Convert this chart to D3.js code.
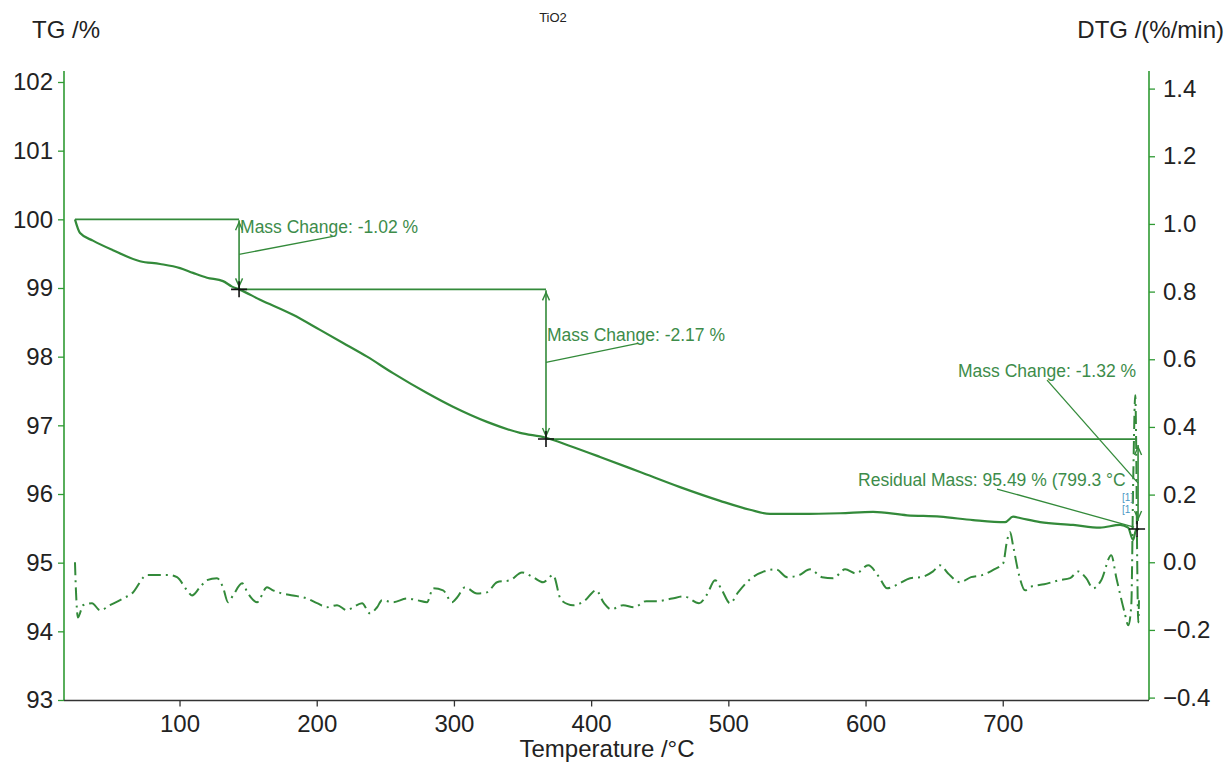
<!DOCTYPE html>
<html>
<head>
<meta charset="utf-8">
<script src="https://cdn.jsdelivr.net/npm/d3@7"></script>
<style>
  html, body { margin: 0; padding: 0; background: #fff; }
  svg { display: block; }
  text { font-family: "Liberation Sans", Arial, sans-serif; }
</style>
</head>
<body>
<svg id="chart" width="1231" height="765"></svg>
<script>
// ---------------- DATA ----------------
const title = "TiO2";
const xLabel = "Temperature /°C";
const yLeftLabel = "TG /%";
const yRightLabel = "DTG /(%/min)";

const xTicks = [100, 200, 300, 400, 500, 600, 700];
const tgTicks = [93, 94, 95, 96, 97, 98, 99, 100, 101, 102];
const dtgTicks = [-0.4, -0.2, 0.0, 0.2, 0.4, 0.6, 0.8, 1.0, 1.2, 1.4];

// TG curve (temperature °C, mass %)
const tgTemp = [23.8, 27.5, 36.9, 51.5, 71.2, 85.8, 100.4, 109.8, 120.0, 131.7, 138.3, 143.4,
  158.7, 182.7, 202.4, 219.2, 236.7, 255.6, 280.4, 299.3, 324.1, 348.2, 367.1,
  384.6, 406.5, 435.7, 464.8, 494.0, 515.8, 530.4, 552.3, 581.4, 605.5, 630.3, 654.3,
  678.4, 701.7, 707.5, 712.6, 727.2, 751.3, 770.9, 785.5, 791.4, 795.0, 797.2, 799.3];
const tgMass = [100.00, 99.80, 99.69, 99.55, 99.39, 99.35, 99.29, 99.22, 99.15, 99.10, 99.02, 98.98,
  98.83, 98.61, 98.39, 98.20, 98.00, 97.76, 97.47, 97.27, 97.05, 96.89, 96.82,
  96.70, 96.54, 96.32, 96.10, 95.90, 95.77, 95.71, 95.71, 95.72, 95.74, 95.69, 95.67,
  95.62, 95.59, 95.67, 95.65, 95.59, 95.55, 95.51, 95.55, 95.51, 95.33, 95.48, 95.49];

// DTG curve (temperature °C, %/min)
const dtgTemp = [23.8, 24.5, 26.0, 29.7, 36.2, 42.1, 49.3, 58.8, 65.4, 76.3, 83.6, 93.1, 98.2,
  105.5, 109.1, 114.9, 120.0, 127.3, 131.7, 135.3, 139.0, 145.6, 149.9, 156.5, 163.8, 168.1,
  174.7, 182.7, 192.9, 200.2, 207.5, 214.8, 222.1, 226.5, 233.0, 238.8, 244.0, 247.6, 255.6,
  265.8, 273.1, 280.4, 284.8, 292.1, 298.6, 302.3, 308.1, 316.8, 324.1, 331.4, 340.9, 349.6,
  357.7, 365.0, 372.3, 378.1, 386.8, 394.9, 403.6, 409.4, 414.5, 423.3, 431.3, 440.1, 448.1,
  459.0, 467.7, 478.6, 484.5, 490.3, 495.4, 501.2, 507.1, 515.1, 526.0, 534.8, 542.8, 551.6,
  559.6, 568.3, 576.4, 585.1, 593.1, 601.9, 609.9, 615.7, 623.7, 632.5, 640.5, 649.2, 654.3,
  660.2, 668.9, 676.9, 684.9, 693.7, 700.3, 703.2, 705.4, 707.5, 711.9, 716.3, 721.4, 730.2,
  741.1, 749.1, 755.0, 760.8, 765.9, 771.8, 779.1, 782.7, 788.6, 791.5, 793.7, 795.1, 796.6,
  797.3, 798.0, 798.8, 799.3];
const dtgVal = [0.000, -0.083, -0.163, -0.127, -0.121, -0.142, -0.127, -0.107, -0.092, -0.038, -0.038, -0.038, -0.044,
  -0.083, -0.098, -0.074, -0.053, -0.047, -0.074, -0.118, -0.098, -0.062, -0.092, -0.118, -0.074, -0.083,
  -0.092, -0.098, -0.107, -0.121, -0.133, -0.127, -0.142, -0.133, -0.121, -0.151, -0.133, -0.112, -0.118,
  -0.107, -0.112, -0.118, -0.077, -0.083, -0.118, -0.104, -0.074, -0.092, -0.089, -0.059, -0.053, -0.030,
  -0.044, -0.059, -0.038, -0.112, -0.127, -0.115, -0.083, -0.121, -0.139, -0.127, -0.133, -0.115, -0.115,
  -0.107, -0.101, -0.121, -0.095, -0.053, -0.083, -0.121, -0.089, -0.053, -0.027, -0.021, -0.044, -0.038,
  -0.021, -0.044, -0.047, -0.021, -0.033, -0.009, -0.044, -0.077, -0.065, -0.047, -0.044, -0.027, -0.009,
  -0.033, -0.059, -0.044, -0.038, -0.021, -0.003, 0.065, 0.089, 0.050, -0.038, -0.083, -0.071, -0.065,
  -0.053, -0.047, -0.027, -0.047, -0.077, -0.053, 0.021, -0.044, -0.145, -0.186, -0.127, 0.243, 0.494,
  0.331, 0.006, -0.178, -0.112];

// Step analysis (mass change evaluation)
const stepStartT = [23.8, 143.4, 367.1];
const stepEndT = [143.4, 367.1, 797.9];
const stepLevels = [100.00, 98.98, 96.80, 95.49];
const stepLabels = ["Mass Change: -1.02 %", "Mass Change: -2.17 %", "Mass Change: -1.32 %"];
const residualLabel = "Residual Mass: 95.49 % (799.3 °C";
const residualT = 797.9;
const residualMass = 95.49;

// ---------------- DRAW ----------------
const svg = d3.select("#chart");
const green = "#338a3a";
const textGreen = "#3d8c4a";
const axisGreen = "#2f9a33";
const ink = "#222";

const x = d3.scaleLinear().domain([15.8, 806.6]).range([64, 1149]);
const yTG = d3.scaleLinear().domain([93, 102]).range([700, 82]);
const yDTG = d3.scaleLinear().domain([-0.4, 1.4]).range([697.6, 88.6]);

// axis lines
svg.append("line").attr("x1", 64).attr("x2", 64).attr("y1", 71).attr("y2", 700)
  .attr("stroke", axisGreen).attr("stroke-width", 1.6);
svg.append("line").attr("x1", 1149).attr("x2", 1149).attr("y1", 71).attr("y2", 700)
  .attr("stroke", axisGreen).attr("stroke-width", 1.6);
svg.append("line").attr("x1", 64).attr("x2", 1149).attr("y1", 700.5).attr("y2", 700.5)
  .attr("stroke", "#333").attr("stroke-width", 1.6);

// left axis
const leftMinor = d3.range(93, 102.001, 0.2);
const gL = svg.append("g").attr("transform", "translate(64,0)");
gL.call(d3.axisLeft(yTG).tickValues(leftMinor).tickSize(3).tickFormat(""));
gL.call(d3.axisLeft(yTG).tickValues(tgTicks).tickSize(6).tickPadding(5).tickFormat(d3.format("d")));
gL.selectAll(".domain").remove();
gL.selectAll("line").attr("stroke", axisGreen).attr("stroke-width", 1.3);
gL.selectAll("text").attr("font-size", 24).attr("fill", ink)
  .attr("font-family", "Liberation Sans, Arial, sans-serif");

// right axis
const rightMinor = d3.range(-0.4, 1.4001, 0.1);
const gR = svg.append("g").attr("transform", "translate(1149,0)");
gR.call(d3.axisRight(yDTG).tickValues(rightMinor).tickSize(3).tickFormat(""));
gR.call(d3.axisRight(yDTG).tickValues(dtgTicks).tickSize(6).tickPadding(8).tickFormat(d3.format(".1f")));
gR.selectAll(".domain").remove();
gR.selectAll("line").attr("stroke", axisGreen).attr("stroke-width", 1.3);
gR.selectAll("text").attr("font-size", 24).attr("fill", ink)
  .attr("font-family", "Liberation Sans, Arial, sans-serif");

// bottom axis
const xMinor = d3.range(20, 801, 20);
const gB = svg.append("g").attr("transform", "translate(0,700.5)");
gB.call(d3.axisBottom(x).tickValues(xMinor).tickSize(4).tickFormat(""));
gB.call(d3.axisBottom(x).tickValues(xTicks).tickSize(6).tickPadding(8).tickFormat(d3.format("d")));
gB.selectAll(".domain").remove();
gB.selectAll("line").attr("stroke", "#333").attr("stroke-width", 1.3);
gB.selectAll("text").attr("font-size", 24).attr("fill", ink)
  .attr("font-family", "Liberation Sans, Arial, sans-serif");

// titles
svg.append("text").attr("x", 32).attr("y", 38).attr("font-size", 24).attr("fill", ink).text(yLeftLabel);
svg.append("text").attr("x", 1224).attr("y", 38).attr("font-size", 24).attr("fill", ink)
  .attr("text-anchor", "end").text(yRightLabel);
svg.append("text").attr("x", 553).attr("y", 22).attr("font-size", 13).attr("fill", ink)
  .attr("text-anchor", "middle").text(title);
svg.append("text").attr("x", 607).attr("y", 757).attr("font-size", 24).attr("fill", ink)
  .attr("text-anchor", "middle").text(xLabel);

// DTG curve
const dtgData = dtgTemp.map((t, i) => [t, dtgVal[i]]);
svg.append("path").datum(dtgData)
  .attr("d", d3.line().x(d => x(d[0])).y(d => yDTG(d[1])).curve(d3.curveMonotoneX))
  .attr("fill", "none").attr("stroke", green).attr("stroke-width", 2)
  .attr("stroke-dasharray", "13,5,2,5");

// step level lines and arrows
function arrow(g, xx, ya, yb) {
  g.append("line").attr("x1", xx).attr("x2", xx).attr("y1", ya).attr("y2", yb)
    .attr("stroke", green).attr("stroke-width", 1.6);
  const hw = 3.5, hl = 10;
  g.append("path").attr("d", `M${xx - hw},${ya + hl} L${xx},${ya + 2} L${xx + hw},${ya + hl}`)
    .attr("fill", "none").attr("stroke", green).attr("stroke-width", 1.4);
  g.append("path").attr("d", `M${xx - hw},${yb - hl} L${xx},${yb - 2} L${xx + hw},${yb - hl}`)
    .attr("fill", "none").attr("stroke", green).attr("stroke-width", 1.4);
}
const ann = svg.append("g");
stepStartT.forEach((t0, i) => {
  ann.append("line").attr("x1", x(t0)).attr("x2", x(stepEndT[i]))
    .attr("y1", yTG(stepLevels[i])).attr("y2", yTG(stepLevels[i]))
    .attr("stroke", green).attr("stroke-width", 1.8);
  const ya = yTG(stepLevels[i]), yb = yTG(stepLevels[i + 1]);
  if (i < 2) arrow(ann, x(stepEndT[i]), ya + 1, yb - 1);
  else arrow(ann, x(stepEndT[i]) + 1, ya + 6, yb - 8);
});

// TG curve
const tgData = tgTemp.map((t, i) => [t, tgMass[i]]);
svg.append("path").datum(tgData)
  .attr("d", d3.line().x(d => x(d[0])).y(d => yTG(d[1])).curve(d3.curveMonotoneX))
  .attr("fill", "none").attr("stroke", green).attr("stroke-width", 2.2);

// labels & leaders
const fs = 17.5;
const p1x = x(stepEndT[0]), p1y = yTG(stepLevels[0]);
ann.append("text").attr("x", p1x + 1).attr("y", p1y + 14).attr("font-size", fs).attr("fill", textGreen).text(stepLabels[0]);
ann.append("line").attr("x1", p1x).attr("y1", p1y + 35).attr("x2", p1x + 94).attr("y2", p1y + 17)
  .attr("stroke", green).attr("stroke-width", 1.3);

const p2x = x(stepEndT[1]), p2y = yTG(stepLevels[1]);
ann.append("text").attr("x", p2x + 1).attr("y", p2y + 52).attr("font-size", fs).attr("fill", textGreen).text(stepLabels[1]);
ann.append("line").attr("x1", p2x).attr("y1", p2y + 73).attr("x2", p2x + 92).attr("y2", p2y + 54)
  .attr("stroke", green).attr("stroke-width", 1.3);

const p3x = x(stepEndT[2]), p3y = yTG(stepLevels[2]);
ann.append("text").attr("x", p3x - 1).attr("y", p3y - 62).attr("font-size", fs).attr("fill", textGreen)
  .attr("text-anchor", "end").text(stepLabels[2]);
ann.append("line").attr("x1", p3x - 90).attr("y1", p3y - 59).attr("x2", p3x + 1).attr("y2", p3y + 44)
  .attr("stroke", green).attr("stroke-width", 1.3);

const rx = x(residualT), ry = yTG(residualMass);
ann.append("text").attr("x", rx - 279).attr("y", ry - 43).attr("font-size", fs).attr("fill", textGreen).text(residualLabel);
ann.append("line").attr("x1", rx - 140).attr("y1", ry - 40).attr("x2", rx - 3).attr("y2", ry - 2)
  .attr("stroke", green).attr("stroke-width", 1.3);

ann.append("text").attr("x", rx - 15).attr("y", ry - 28).attr("font-size", 10).attr("fill", "#4a97c4").text("[1]");
ann.append("text").attr("x", rx - 15).attr("y", ry - 16).attr("font-size", 10).attr("fill", "#4a97c4").text("[1");

// cross markers
[[stepEndT[0], stepLevels[1]], [stepEndT[1], stepLevels[2]], [residualT, residualMass]].forEach(p => {
  const cx = x(p[0]), cy = yTG(p[1]);
  svg.append("path").attr("d", `M${cx - 8},${cy} H${cx + 8} M${cx},${cy - 8} V${cy + 8}`)
    .attr("stroke", "#111").attr("stroke-width", 1.6).attr("fill", "none");
});
</script>
</body>
</html>
